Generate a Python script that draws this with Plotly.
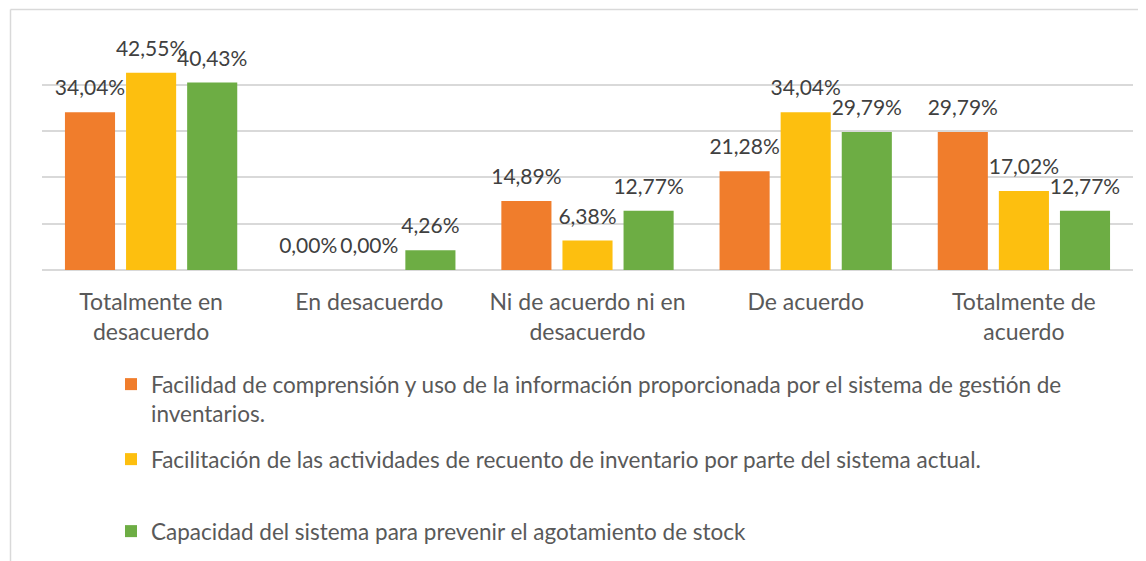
import plotly.graph_objects as go

categories = ["Totalmente en desacuerdo", "En desacuerdo", "Ni de acuerdo ni en desacuerdo",
              "De acuerdo", "Totalmente de acuerdo"]
tick_labels = ["Totalmente en<br>desacuerdo", "En desacuerdo", "Ni de acuerdo ni en<br>desacuerdo",
               "De acuerdo", "Totalmente de<br>acuerdo"]

series_names = [
    "Facilidad de comprensión y uso de la información proporcionada por el sistema de gestión de<br>inventarios.",
    "Facilitación de las actividades de recuento de inventario por parte del sistema actual.",
    "Capacidad del sistema para prevenir el agotamiento de stock",
]
facilidad = [34.04, 0.00, 14.89, 21.28, 29.79]
facilitacion = [42.55, 0.00, 6.38, 34.04, 17.02]
capacidad = [40.43, 4.26, 12.77, 29.79, 12.77]
series_values = [facilidad, facilitacion, capacidad]
colors = ["#F07D2C", "#FDBF0F", "#6DAD44"]
legend_ids = ["legend", "legend2", "legend3"]

FONT = "Lato"
fig = go.Figure()

for name, vals, col, lg in zip(series_names, series_values, colors, legend_ids):
    fig.add_trace(go.Bar(
        x=categories, y=vals, name=name, marker=dict(color=col, line=dict(width=0)),
        legend=lg, hoverinfo="skip",
    ))

for vals in series_values:
    fig.add_trace(go.Scatter(
        x=categories, y=vals, mode="markers+text",
        text=[f"{v:.2f}%".replace(".", ",") for v in vals],
        textposition="top center",
        textfont=dict(family=FONT, size=21, color="#404040"),
        marker=dict(size=17, opacity=0),
        showlegend=False, hoverinfo="skip", cliponaxis=False,
    ))

OFF = 8  # page body margin
W, H = 1146 - OFF, 561 - OFF
L, R, T, B = 42 - OFF, 1146 - 1133, 38 - OFF, 561 - 270
pw, ph = W - L - R, H - T - B


def px_x(p):
    return (p - OFF - L) / pw


def px_y(p):
    return (H - B - (p - OFF)) / ph


legend_common = dict(
    font=dict(family=FONT, size=22.5, color="#595959"),
    bgcolor="rgba(0,0,0,0)", xanchor="left", yanchor="top",
    itemclick=False, itemdoubleclick=False, valign="top",
)

fig.update_layout(
    width=W, height=H,
    margin=dict(l=L, r=R, t=T, b=B, autoexpand=False),
    paper_bgcolor="white", plot_bgcolor="white",
    barmode="group", bargap=0.16, bargroupgap=0.18,
    scattermode="group", scattergap=0.16,
    font=dict(family=FONT, color="#595959"),
    xaxis=dict(
        tickvals=categories, ticktext=tick_labels, showline=False, ticks="",
        tickfont=dict(family=FONT, size=23, color="#595959"),
        ticklabelstandoff=16,
        showgrid=False, zeroline=False,
    ),
    yaxis=dict(
        range=[0, 50.05], dtick=10, showticklabels=False, showgrid=True,
        gridcolor="#D9D9D9", gridwidth=1.5, zeroline=True, zerolinecolor="#D9D9D9",
        zerolinewidth=1.5, showline=False,
    ),
    legend=dict(x=px_x(111), y=px_y(363), **legend_common),
    legend2=dict(x=px_x(111), y=px_y(438), **legend_common),
    legend3=dict(x=px_x(111), y=px_y(510), **legend_common),
    shapes=[
        dict(type="line", xref="paper", yref="paper", x0=px_x(10.5), x1=px_x(1160),
             y0=px_y(9.5), y1=px_y(9.5), line=dict(color="#D9D9D9", width=1.5)),
        dict(type="line", xref="paper", yref="paper", x0=px_x(10.5), x1=px_x(10.5),
             y0=px_y(9.5), y1=px_y(580), line=dict(color="#D9D9D9", width=1.5)),
    ],
)

fig.write_html("out.html")
